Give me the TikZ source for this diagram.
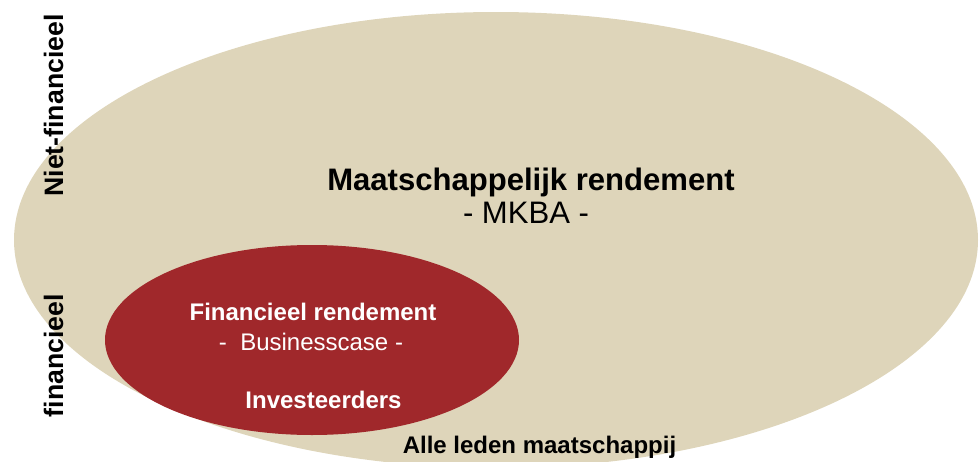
\documentclass[tikz,border=0pt]{standalone}
\usepackage{fontspec}
\setmainfont{Liberation Sans}
\usepackage{tikz}
\usetikzlibrary{shapes.geometric,positioning}
\definecolor{sand}{HTML}{DED5BA}
\definecolor{wine}{HTML}{A0282B}
\definecolor{ink}{HTML}{000000}
\tikzset{
  zone/.style={
    ellipse, fill=#1, draw=none, inner sep=0pt
  },
  zone/.default=sand,
  headtext/.style={
    font=\fontsize{23.3pt}{26pt}\selectfont\bfseries, text=ink, inner sep=0pt
  },
  subtext/.style={
    font=\fontsize{#1}{26pt}\selectfont, inner sep=0pt
  },
  subtext/.default=23.3pt,
  bodytext/.style={
    font=\fontsize{18pt}{21pt}\selectfont\bfseries, inner sep=0pt
  },
  axistext/.style={
    font=\fontsize{20pt}{23pt}\selectfont\bfseries, rotate=90,
    anchor=base, inner sep=0pt
  },
}

\begin{document}
\begin{tikzpicture}[x=0.75pt,y=-0.75pt]
  \useasboundingbox (0,0) rectangle (979,461);
  \clip (0,0) rectangle (979,461);

  % society / investors
  \node[zone=sand, minimum width=723pt, minimum height=342pt] (society) at (496,240) {};
  \node[zone=wine, minimum width=310.5pt, minimum height=142.5pt] (investors) at (312,340) {};

  % society texts
  \node[headtext, anchor=base] (mkbatitle) at (531,190) {Maatschappelijk rendement};
  \node[subtext, anchor=base] (mkba) at (526,223) {- MKBA -};
  \node[bodytext, anchor=base] (members) at (539.5,453) {Alle leden maatschappij};

  % investor texts
  \node[bodytext, text=white, anchor=base] (bctitle) at (313,320) {Financieel rendement};
  \node[subtext=18pt, text=white, anchor=base] (bc) at (311,350) {-\ \ Businesscase -};
  \node[bodytext, text=white, anchor=base] (investorlabel) at (323.5,408) {Investeerders};

  % side labels
  \node[axistext] (nonfin) at (63,105.5) {Niet-financieel};
  \node[axistext] (fin) at (63,355.5) {financieel};
\end{tikzpicture}
\end{document}
